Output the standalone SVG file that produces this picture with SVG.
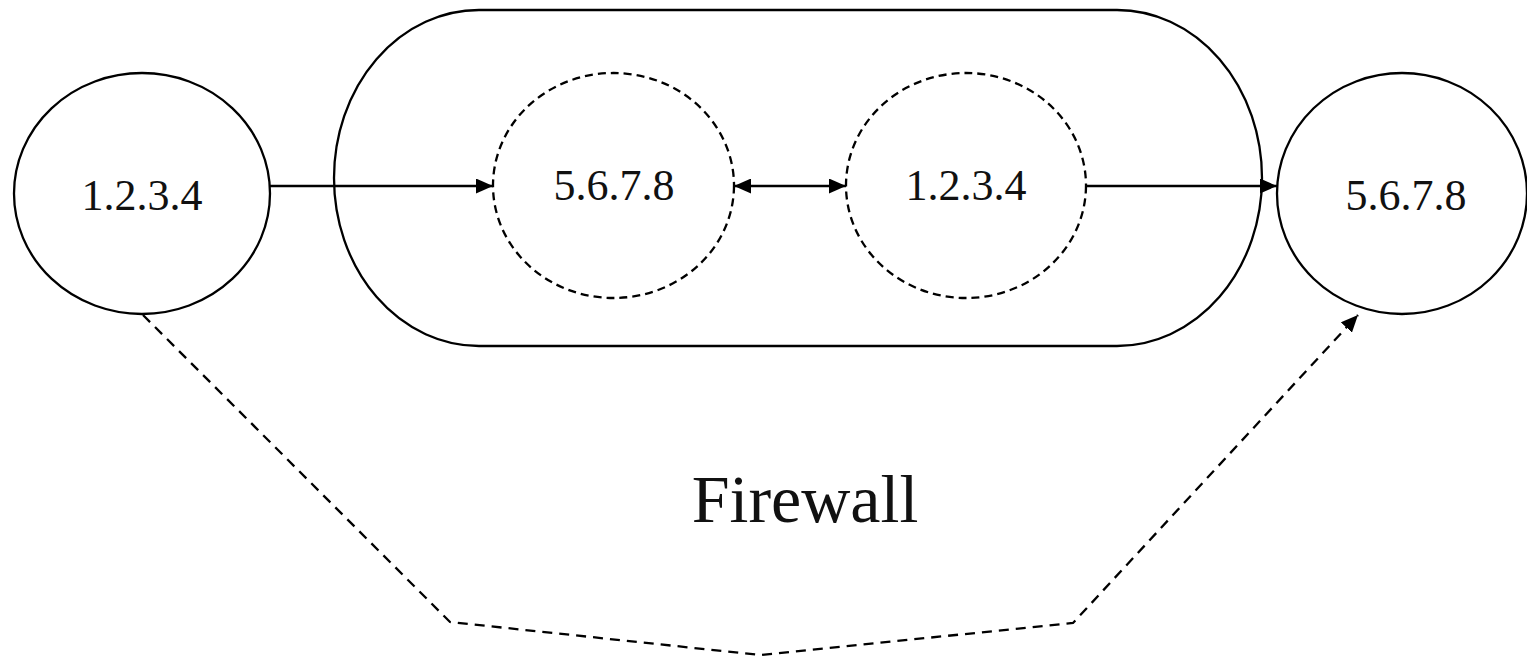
<svg xmlns="http://www.w3.org/2000/svg" width="1527" height="657" viewBox="0 0 1527 657">
<style>
.node{fill:none;stroke:#000;stroke-width:2.3}
.dash{stroke-dasharray:8 5}
.lbl{font-family:"Liberation Serif",serif;font-size:44px;fill:#111;text-anchor:middle}
.big{font-size:68px}
.conn{fill:none;stroke:#000;stroke-width:2.3}
.cdash{stroke-dasharray:10 7}
</style>
<defs>
<marker id="ah" markerUnits="userSpaceOnUse" markerWidth="17" markerHeight="15" refX="17" refY="7.5" orient="auto-start-reverse">
<path d="M0,0 L17,7.5 L0,15 z" fill="#000"/>
</marker>
</defs>
<rect width="1527" height="657" fill="#fff"/>
<g id="firewall">
<rect class="node" x="334" y="10" width="928" height="336" rx="145" ry="168"/>
<text class="lbl big" x="805" y="522">Firewall</text>
</g>
<g id="src">
<ellipse class="node" cx="142" cy="193.5" rx="128" ry="120.5"/>
<text class="lbl" x="142" y="210">1.2.3.4</text>
</g>
<g id="fw-in">
<ellipse class="node dash" cx="613.5" cy="185.5" rx="120.5" ry="112.5"/>
<text class="lbl" x="614" y="200">5.6.7.8</text>
</g>
<g id="fw-out">
<ellipse class="node dash" cx="966" cy="185.5" rx="120" ry="112.5"/>
<text class="lbl" x="966" y="200">1.2.3.4</text>
</g>
<g id="dst">
<ellipse class="node" cx="1402" cy="193.5" rx="125" ry="120.5"/>
<text class="lbl" x="1406" y="210">5.6.7.8</text>
</g>
<g id="connectors">
<line class="conn" x1="270" y1="186" x2="493" y2="186" marker-end="url(#ah)"/>
<line class="conn" x1="734" y1="186" x2="846" y2="186" marker-start="url(#ah)" marker-end="url(#ah)"/>
<line class="conn" x1="1086" y1="186" x2="1277" y2="186" marker-end="url(#ah)"/>
<polyline class="conn cdash" points="143,315 450,622 760,655 1073,623 1358,315" marker-end="url(#ah)"/>
</g>
</svg>
